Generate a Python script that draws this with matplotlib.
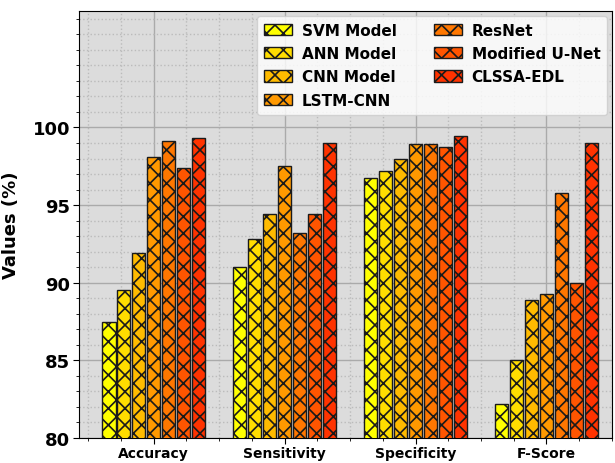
import numpy as np
import matplotlib
matplotlib.use("Agg")
import matplotlib.pyplot as plt
from matplotlib.ticker import MultipleLocator

categories = ["Accuracy", "Sensitivity", "Specificity", "F-Score"]
models = ["SVM Model", "ANN Model", "CNN Model", "LSTM-CNN", "ResNet", "Modified U-Net", "CLSSA-EDL"]
svm = [87.5, 91.0, 96.75, 82.2]
ann = [89.5, 92.8, 97.2, 85.0]
cnn = [91.9, 94.4, 98.0, 88.9]
lstm = [98.1, 97.5, 98.95, 89.25]
resnet = [99.1, 93.2, 98.95, 95.8]
unet = [97.4, 94.45, 98.75, 89.95]
clssa = [99.35, 99.0, 99.46, 99.0]
series = [svm, ann, cnn, lstm, resnet, unet, clssa]
colors = ["#FFFF00", "#FFDD00", "#FFBB00", "#FF9900", "#FF7700", "#FF5500", "#FF3300"]
yticks = [80, 85, 90, 95, 100]

plt.rcParams["hatch.linewidth"] = 1.2

fig = plt.figure(figsize=(6.15, 4.64), dpi=100)
ax = fig.add_axes([0.128, 0.054, 0.867, 0.92])
ax.set_facecolor("#DCDCDC")

x = np.arange(len(categories))
step = 0.114
width = 0.1
for i, (vals, name, c) in enumerate(zip(series, models, colors)):
    ax.bar(x + (i - 3) * step, vals, width=width, color=c, edgecolor="#1a1a1a",
           linewidth=1.0, hatch="xx", label=name, zorder=3)

ax.set_ylim(80, 107.5)
ax.set_xlim(-0.573, 3.5)
ax.set_yticks(yticks)
ax.yaxis.set_minor_locator(MultipleLocator(1))
ax.set_xticks(x)
ax.set_xticklabels(categories, fontsize=10, fontweight="bold")
ax.xaxis.set_minor_locator(MultipleLocator(0.25))
for lab in ax.get_yticklabels():
    lab.set_fontsize(13)
    lab.set_fontweight("bold")
ax.set_ylabel("Values (%)", fontsize=13, fontweight="bold", labelpad=9)
ax.grid(which="major", color="#AAAAAA", linestyle="-", linewidth=1.0, zorder=0)
ax.grid(which="minor", color="#BBBBBB", linestyle=":", linewidth=1.0, zorder=0)
ax.set_axisbelow(True)
ax.tick_params(which="major", length=4, direction="out", pad=2)
ax.tick_params(which="minor", length=2.5, direction="out")

leg = ax.legend(loc="upper right", ncol=2, prop={"weight": "bold", "size": 11},
                framealpha=0.8, handlelength=1.85, handleheight=0.75,
                handletextpad=0.65, columnspacing=2.4, borderaxespad=0.3,
                labelspacing=0.55, borderpad=0.45)
for p in leg.get_patches():
    p.set_edgecolor("#1a1a1a")

fig.savefig("out.png", dpi=100)
